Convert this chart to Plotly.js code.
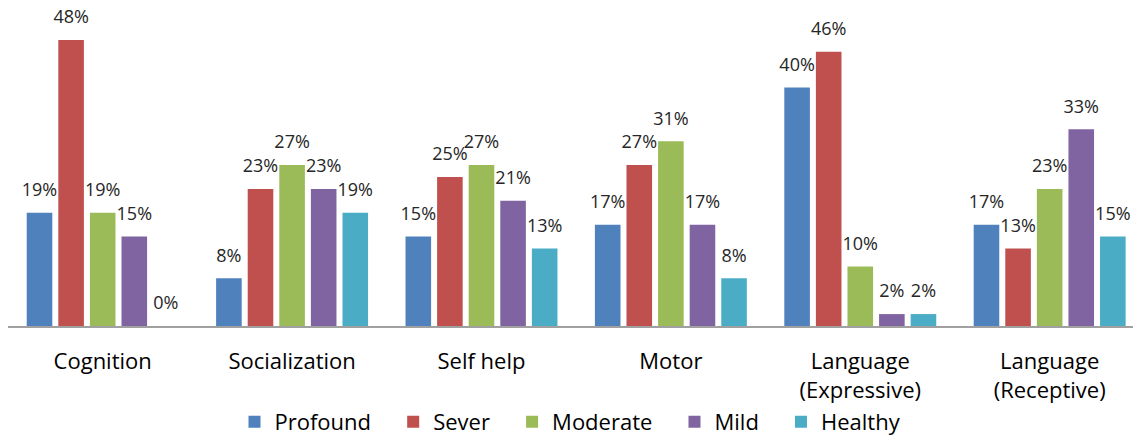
<!DOCTYPE html>
<html>
<head>
<meta charset="utf-8">
<script src="https://cdn.plot.ly/plotly-3.0.1.min.js"></script>
<style>html,body{margin:0;padding:0;background:#fff;}#chart{width:1133px;height:437px;}</style>
</head>
<body>
<div id="chart"></div>
<script>
const categories = ['Cognition', 'Socialization', 'Self help', 'Motor', 'Language<br>(Expressive)', 'Language<br>(Receptive)'];
const seriesNames = ['Profound', 'Sever', 'Moderate', 'Mild', 'Healthy'];
const profound = [19, 8, 15, 17, 40, 17];
const sever = [48, 23, 25, 27, 46, 13];
const moderate = [19, 27, 27, 31, 10, 23];
const mild = [15, 23, 21, 17, 2, 33];
const healthy = [0, 19, 13, 8, 2, 15];
const colors = ['#4F81BD', '#C0504D', '#9BBB59', '#8064A2', '#4BACC6'];

const allSeries = [profound, sever, moderate, mild, healthy];
const traces = [];
allSeries.forEach((vals, i) => {
  const pad = i < allSeries.length - 1 ? '\u00a0\u00a0\u00a0' : '';
  traces.push({
    type: 'bar', name: seriesNames[i] + pad, x: categories, y: vals,
    marker: {color: colors[i]}, offsetgroup: 'g' + i, alignmentgroup: 'a',
    hoverinfo: 'skip'
  });
});
allSeries.forEach((vals, i) => {
  traces.push({
    type: 'scatter', mode: 'markers+text', x: categories, y: vals,
    text: vals.map(v => v + '%'), textposition: 'top center',
    textfont: {family: 'Open Sans', size: 18, color: '#262626'},
    marker: {size: 18, opacity: 0},
    offsetgroup: 'g' + i, alignmentgroup: 'a',
    showlegend: false, cliponaxis: false, hoverinfo: 'skip'
  });
});

const layout = {
  width: 1133, height: 437,
  margin: {l: 8, r: 0, t: 0, b: 111},
  paper_bgcolor: '#fff', plot_bgcolor: '#fff',
  barmode: 'group', bargap: 0.166, bargroupgap: 0.19,
  scattermode: 'group', scattergap: 0.166,
  showlegend: true,
  xaxis: {
    range: [-0.5, 5.44], showgrid: false, zeroline: false,
    showline: true, linecolor: '#A0A0A0', linewidth: 2,
    ticks: '', ticklabelstandoff: 15, automargin: false,
    tickfont: {family: 'Open Sans', size: 22, color: '#000'},
    fixedrange: true
  },
  yaxis: {
    range: [0, 54.7], visible: false, showgrid: false, zeroline: false,
    automargin: false, fixedrange: true
  },
  legend: {
    orientation: 'h', x: 0.5, xanchor: 'center',
    yref: 'container', y: 0.0343, yanchor: 'middle',
    font: {family: 'Open Sans', size: 22, color: '#000'},
    bgcolor: 'rgba(0,0,0,0)', traceorder: 'normal'
  },
  font: {family: 'Open Sans'}
};

Plotly.newPlot('chart', traces, layout, {displayModeBar: false, staticPlot: true});
</script>
</body>
</html>
